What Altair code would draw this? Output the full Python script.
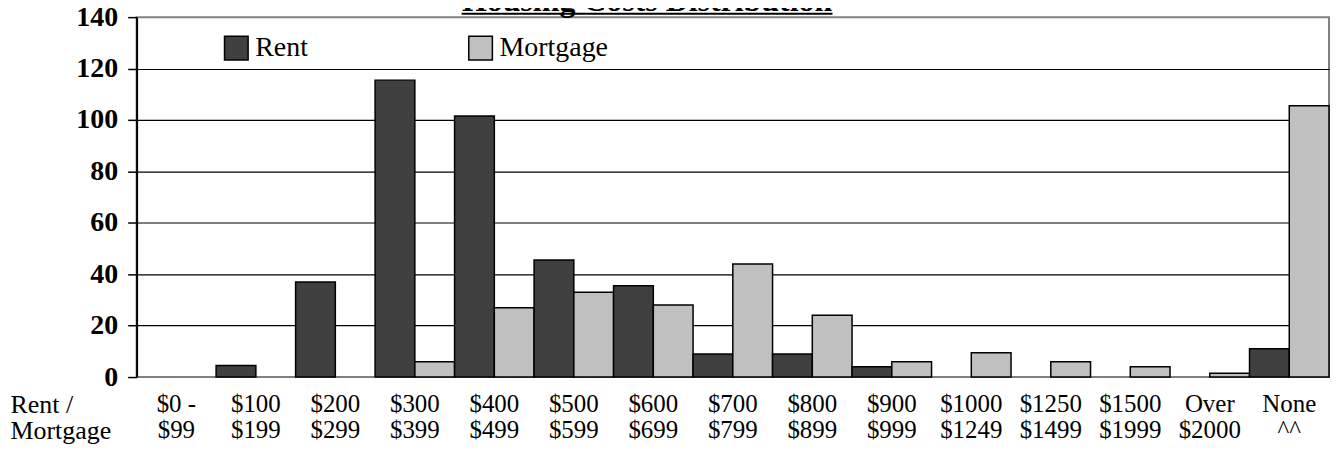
import altair as alt
import pandas as pd

categories = ["$0 -|$99", "$100|$199", "$200|$299", "$300|$399", "$400|$499",
              "$500|$599", "$600|$699", "$700|$799", "$800|$899", "$900|$999",
              "$1000|$1249", "$1250|$1499", "$1500|$1999", "Over|$2000", "None|^^"]
rent = [0, 4.5, 37, 115.5, 101.5, 45.5, 35.5, 9, 9, 4, 0, 0, 0, 0, 11]
mortgage = [0, 0, 0, 6, 27, 33, 28, 44, 24, 6, 9.5, 6, 4, 1.5, 105.5]
series = ["Rent", "Mortgage"]
colors = ["#404040", "#c0c0c0"]
y_ticks = [0, 20, 40, 60, 80, 100, 120, 140]
title_text = "Housing Costs Distribution"
x_title = ["Rent /", "Mortgage"]

rows = []
for c, r, m in zip(categories, rent, mortgage):
    rows.append({"category": c, "series": "Rent", "value": r})
    rows.append({"category": c, "series": "Mortgage", "value": m})
df = pd.DataFrame(rows)

FONT = "Liberation Serif"
W, H = 1196, 361

bars = alt.Chart(df).transform_filter("datum.value > 0").mark_bar(
    stroke="black", strokeWidth=1.5, opacity=1
).encode(
    x=alt.X("category:N", sort=categories,
            scale=alt.Scale(domain=categories, paddingInner=0, paddingOuter=0),
            axis=alt.Axis(title=x_title, titleX=-127, titleY=15, titleAlign="left",
                          titleBaseline="top", titleFont=FONT, titleFontSize=26,
                          titleFontWeight="normal", titleLineHeight=26, titleColor="black",
                          labelExpr="split(datum.label, '|')", labelAngle=0,
                          labelFont=FONT, labelFontSize=25, labelLineHeight=26,
                          labelPadding=15, labelBaseline="top", labelColor="black",
                          labelOverlap=False, labelLimit=0,
                          domain=False, ticks=False, grid=False)),
    xOffset=alt.XOffset("series:N", sort=series,
                        scale=alt.Scale(domain=series, paddingInner=0, paddingOuter=0)),
    y=alt.Y("value:Q", scale=alt.Scale(domain=[0, 140], nice=False),
            axis=alt.Axis(values=y_ticks, title=None, labelFont=FONT, labelFontSize=28,
                          labelFontWeight="bold", labelColor="black", labelPadding=10,
                          tickSize=9, tickColor="black", tickWidth=1.5,
                          domainColor="black", domainWidth=2,
                          gridColor={"condition": {"test": "datum.value === 0 || datum.value === 140",
                                                   "value": "transparent"},
                                     "value": "black"},
                          gridWidth=1.2)),
    color=alt.Color("series:N", sort=series,
                    scale=alt.Scale(domain=series, range=colors),
                    legend=alt.Legend(orient="none", legendX=86, legendY=17,
                                      direction="horizontal", title=None,
                                      symbolType="square", symbolSize=560,
                                      symbolStrokeColor="black", symbolStrokeWidth=1.5,
                                      symbolOpacity=1, labelFont=FONT, labelFontSize=28,
                                      labelColor="black", labelOffset=5,
                                      columnPadding=158, padding=0)),
)

title_mark = alt.Chart(alt.Data(values=[{}])).mark_text(
    text=title_text, font=FONT, fontSize=32, fontWeight="bold",
    align="center", baseline="alphabetic", color="black"
).encode(x=alt.value(512), y=alt.value(-6.5))

underline = alt.Chart(alt.Data(values=[{}])).mark_rule(
    color="black", strokeWidth=2
).encode(x=alt.value(326), x2=alt.value(698), y=alt.value(-3.5))

chart = alt.layer(bars, title_mark, underline).properties(
    width=W, height=H,
    autosize=alt.AutoSizeParams(type="none"),
    padding={"left": 129, "top": 8.5, "right": 4, "bottom": 74},
    background="white",
).configure_view(stroke="#808080", strokeWidth=2)

chart.save("out.html", embed_options={"renderer": "svg", "actions": False})
